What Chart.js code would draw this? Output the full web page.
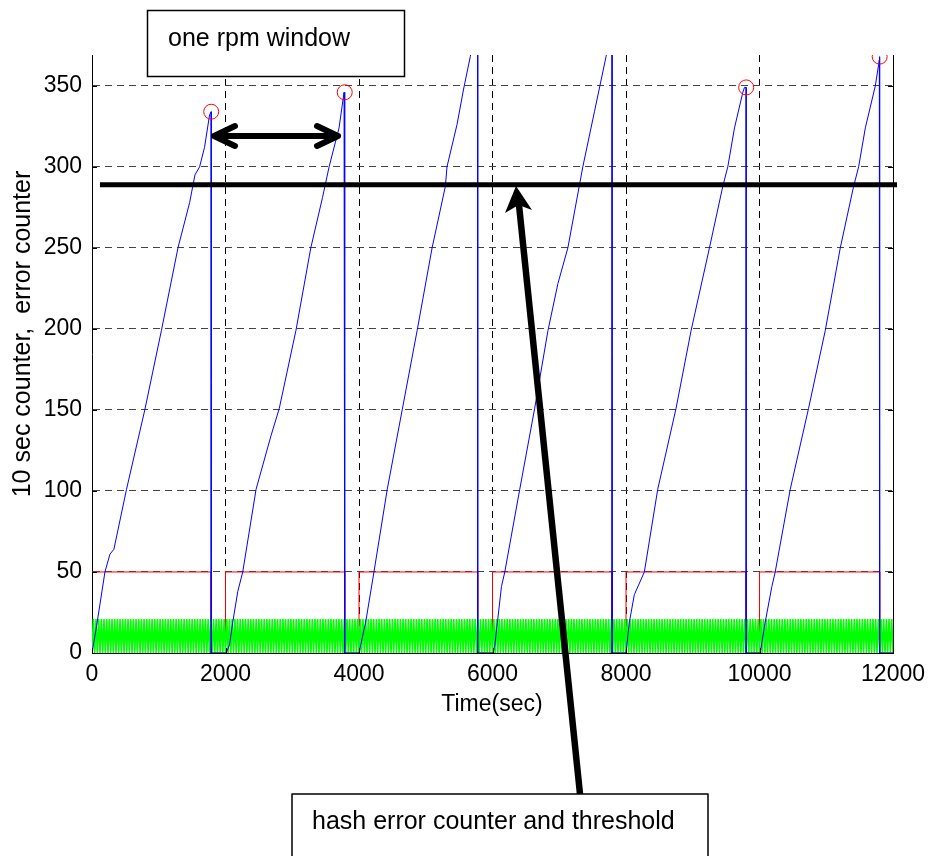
<!DOCTYPE html>
<html>
<head>
<meta charset="utf-8">
<script src="https://cdn.jsdelivr.net/npm/chart.js@4/dist/chart.umd.min.js"></script>
<style>html,body{margin:0;padding:0;background:#fff;}canvas{display:block;}</style>
</head>
<body>
<canvas id="c" width="933" height="856"></canvas>
<script>
// ---- data ----
const xTicks = [0, 2000, 4000, 6000, 8000, 10000, 12000];
const yTicks = [0, 50, 100, 150, 200, 250, 300, 350];

// error counter (blue), time in sec
const counterTimes = [
  0, 70, 194, 269, 328, 517, 791, 1040, 1288, 1463, 1542, 1612, 1686, 1761, 1786,
  1786, 2010, 2060, 2109, 2184, 2258, 2458, 2681, 2806, 3055, 3278, 3453, 3552, 3701, 3776, 3786,
  3786, 4005, 4025, 4100, 4224, 4423, 4647, 4871, 5095, 5294, 5318, 5468, 5567, 5667, 5778,
  5778, 6010, 6035, 6134, 6184, 6408, 6632, 6831, 6980, 7129, 7353, 7527, 7701, 7791,
  7791, 8000, 8050, 8125, 8275, 8475, 8750, 8975, 9250, 9450, 9525, 9625, 9750, 9775, 9800,
  9800, 10010, 10085, 10185, 10235, 10460, 10735, 10985, 11210, 11410, 11485, 11585, 11735, 11795, 11800,
  11800, 12000
];
const counterValues = [
  0, 17, 50, 61, 64, 101, 150, 199, 250, 278, 295, 300, 312, 332, 334,
  0, 0, 5, 19, 38, 50, 101, 134, 151, 199, 250, 281, 300, 324, 346, 346,
  0, 0, 5, 19, 50, 101, 150, 199, 250, 288, 300, 326, 348, 368, 391,
  0, 0, 5, 41, 50, 101, 151, 199, 228, 250, 300, 334, 368, 386,
  0, 0, 19, 36, 50, 101, 151, 199, 250, 288, 300, 324, 346, 349, 349,
  0, 0, 19, 41, 50, 101, 151, 199, 250, 288, 300, 324, 350, 366, 368,
  0, 0
];

// rpm window flag (red)
const flagTimes = [0, 1786, 1786, 2000, 2000, 3786, 3786, 4000, 4000, 5778, 5778, 6000, 6000,
  7791, 7791, 8000, 8000, 9800, 9800, 10000, 10000, 11800, 11800, 12000];
const flagValues = [50, 50, 0, 0, 50, 50, 0, 0, 50, 50, 0, 0, 50,
  50, 0, 0, 50, 50, 0, 0, 50, 50, 0, 0];

// peaks marked with red circles
const peakTimes = [1786, 3786, 5778, 7791, 9800, 11800];
const peakValues = [334, 346, 391, 386, 349, 368];

// 10 sec counter (green), one sample every tenSecStep seconds
const tenSecStep = 20;
const tenSecValues = [
  0,21,0,21,0,21,0,21,0,21,0,21,0,21,0,21,0,21,0,21,
  0,21,0,21,0,21,0,21,0,21,0,21,0,21,0,21,0,21,0,21,
  0,21,0,21,0,21,0,21,0,21,0,21,0,21,0,21,0,21,0,21,
  0,21,0,21,0,21,0,21,0,21,0,21,0,21,0,21,0,21,0,21,
  0,21,0,21,0,21,0,21,0,21,0,21,0,21,0,21,0,21,0,21,
  0,21,0,21,0,21,0,21,0,21,0,21,0,21,0,21,0,21,0,21,
  0,21,0,21,0,21,0,21,0,21,0,21,0,21,0,21,0,21,0,21,
  0,21,0,21,0,21,0,21,0,21,0,21,0,21,0,21,0,21,0,21,
  0,21,0,21,0,21,0,21,0,21,0,21,0,21,0,21,0,21,0,21,
  0,21,0,21,0,21,0,21,0,21,0,21,0,21,0,21,0,21,0,21,
  0,21,0,21,0,21,0,21,0,21,0,21,0,21,0,21,0,21,0,21,
  0,21,0,21,0,21,0,21,0,21,0,21,0,21,0,21,0,21,0,21,
  0,21,0,21,0,21,0,21,0,21,0,21,0,21,0,21,0,21,0,21,
  0,21,0,21,0,21,0,21,0,21,0,21,0,21,0,21,0,21,0,21,
  0,21,0,21,0,21,0,21,0,21,0,21,0,21,0,21,0,21,0,21,
  0,21,0,21,0,21,0,21,0,21,0,21,0,21,0,21,0,21,0,21,
  0,21,0,21,0,21,0,21,0,21,0,21,0,21,0,21,0,21,0,21,
  0,21,0,21,0,21,0,21,0,21,0,21,0,21,0,21,0,21,0,21,
  0,21,0,21,0,21,0,21,0,21,0,21,0,21,0,21,0,21,0,21,
  0,21,0,21,0,21,0,21,0,21,0,21,0,21,0,21,0,21,0,21,
  0,21,0,21,0,21,0,21,0,21,0,21,0,21,0,21,0,21,0,21,
  0,21,0,21,0,21,0,21,0,21,0,21,0,21,0,21,0,21,0,21,
  0,21,0,21,0,21,0,21,0,21,0,21,0,21,0,21,0,21,0,21,
  0,21,0,21,0,21,0,21,0,21,0,21,0,21,0,21,0,21,0,21,
  0,21,0,21,0,21,0,21,0,21,0,21,0,21,0,21,0,21,0,21,
  0,21,0,21,0,21,0,21,0,21,0,21,0,21,0,21,0,21,0,21,
  0,21,0,21,0,21,0,21,0,21,0,21,0,21,0,21,0,21,0,21,
  0,21,0,21,0,21,0,21,0,21,0,21,0,21,0,21,0,21,0,21,
  0,21,0,21,0,21,0,21,0,21,0,21,0,21,0,21,0,21,0,21,
  0,21,0,21,0,21,0,21,0,21,0,21,0,21,0,21,0,21,0,21,
  0
];

// hash error threshold
const thresholdValue = [289];
const thresholdSpan = [119, 12060];

// ---- build chart ----
const FONT = "'Liberation Sans', Arial, Helvetica, sans-serif";
const zip = (xs, ys) => xs.map((x, i) => ({x: x, y: ys[i]}));

const annotations = {
  id: 'annotations',
  afterDraw(chart) {
    const ctx = chart.ctx;
    const a = chart.chartArea;
    const xs = chart.scales.x, ys = chart.scales.y;
    ctx.save();
    // right axis line
    ctx.strokeStyle = '#000'; ctx.lineWidth = 1;
    ctx.beginPath(); ctx.moveTo(a.right + 0.5, a.top); ctx.lineTo(a.right + 0.5, a.bottom); ctx.stroke();
    // inside tick marks
    ctx.beginPath();
    xTicks.forEach(v => { const p = Math.round(xs.getPixelForValue(v)) + 0.5; ctx.moveTo(p, a.bottom); ctx.lineTo(p, a.bottom - 5); });
    yTicks.forEach(v => { const p = Math.round(ys.getPixelForValue(v)) + 0.5;
      ctx.moveTo(a.left, p); ctx.lineTo(a.left + 5, p); ctx.moveTo(a.right, p); ctx.lineTo(a.right - 5, p); });
    ctx.stroke();

    // axis titles
    ctx.fillStyle = '#000';
    ctx.font = '23px ' + FONT;
    ctx.textAlign = 'center'; ctx.textBaseline = 'middle';
    ctx.fillText('Time(sec)', 492, 705);
    ctx.save();
    ctx.translate(23, 334); ctx.rotate(-Math.PI / 2);
    ctx.font = '25px ' + FONT;
    ctx.fillText('10 sec counter,  error counter', 0, 0);
    ctx.restore();

    // "one rpm window" box
    ctx.fillStyle = '#fff';
    ctx.fillRect(147.5, 10.5, 257, 66);
    ctx.strokeStyle = '#000'; ctx.lineWidth = 1.5;
    ctx.strokeRect(147.5, 10.5, 257, 66);
    ctx.fillStyle = '#000';
    ctx.textAlign = 'left'; ctx.textBaseline = 'alphabetic';
    ctx.font = '25px ' + FONT;
    ctx.fillText('one rpm window', 168, 46);

    // double arrow
    ctx.lineWidth = 6; ctx.lineCap = 'round'; ctx.lineJoin = 'round';
    ctx.beginPath();
    ctx.moveTo(214, 136); ctx.lineTo(338, 136);
    ctx.moveTo(235, 126); ctx.lineTo(214, 136); ctx.lineTo(235, 146);
    ctx.moveTo(317, 126); ctx.lineTo(338, 136); ctx.lineTo(317, 146);
    ctx.stroke();

    // long arrow to threshold
    ctx.lineCap = 'butt';
    ctx.lineWidth = 6.5;
    ctx.beginPath(); ctx.moveTo(580, 794); ctx.lineTo(519, 205); ctx.stroke();
    ctx.beginPath();
    ctx.moveTo(516, 186); ctx.lineTo(532, 210); ctx.lineTo(518.5, 205); ctx.lineTo(505, 213); ctx.closePath();
    ctx.fill();

    // bottom box
    ctx.fillStyle = '#fff';
    ctx.fillRect(292, 794, 416, 70);
    ctx.lineWidth = 1.5;
    ctx.strokeRect(292, 794, 416, 70);
    ctx.fillStyle = '#000';
    ctx.font = '25px ' + FONT;
    ctx.fillText('hash error counter and threshold', 312, 829);
    ctx.restore();
  }
};

new Chart(document.getElementById('c'), {
  type: 'line',
  data: {
    datasets: [
      {
        label: 'threshold',
        data: zip(thresholdSpan, [thresholdValue[0], thresholdValue[0]]),
        borderColor: '#000', borderWidth: 5, pointRadius: 0, clip: false, order: 0
      },
      {
        label: 'peaks',
        data: zip(peakTimes, peakValues),
        showLine: false, pointRadius: 7.5, pointHoverRadius: 7.5,
        pointBorderColor: '#ff0000', pointBackgroundColor: 'rgba(0,0,0,0)', pointBorderWidth: 1, order: 1
      },
      {
        label: 'error counter',
        data: zip(counterTimes, counterValues),
        borderColor: '#0000ff', borderWidth: 1, pointRadius: 0, order: 2
      },
      {
        label: '10 sec counter',
        data: tenSecValues.map((v, i) => ({x: i * tenSecStep, y: v})),
        borderColor: '#00ff00', borderWidth: 1.6, pointRadius: 0, order: 3
      },
      {
        label: 'rpm window',
        data: zip(flagTimes, flagValues),
        borderColor: '#ff0000', borderWidth: 1, pointRadius: 0, order: 4
      }
    ]
  },
  options: {
    responsive: false,
    animation: false,
    devicePixelRatio: 1,
    layout: {padding: {top: 55, right: 37, left: 0, bottom: 0}},
    plugins: {legend: {display: false}, tooltip: {enabled: false}},
    elements: {line: {tension: 0}},
    scales: {
      x: {
        type: 'linear', min: 0, max: 12000,
        afterBuildTicks: s => { s.ticks = xTicks.map(v => ({value: v})); },
        afterFit: s => { s.height = 203; },
        grid: {color: '#000', lineWidth: 1, drawTicks: false},
        border: {display: true, color: '#000', width: 1, dash: [7, 5]},
        ticks: {color: '#000', font: {family: FONT, size: 23}, padding: 8, maxRotation: 0,
                callback: v => String(v)}
      },
      y: {
        type: 'linear', min: 0, max: 369,
        afterBuildTicks: s => { s.ticks = yTicks.map(v => ({value: v})); },
        afterFit: s => { s.width = 92; },
        grid: {color: '#444', lineWidth: 1, drawTicks: false},
        border: {display: true, color: '#000', width: 1, dash: [7, 5]},
        ticks: {color: '#000', font: {family: FONT, size: 23}, padding: 10,
                callback: v => String(v)}
      }
    }
  },
  plugins: [annotations]
});
</script>
</body>
</html>
